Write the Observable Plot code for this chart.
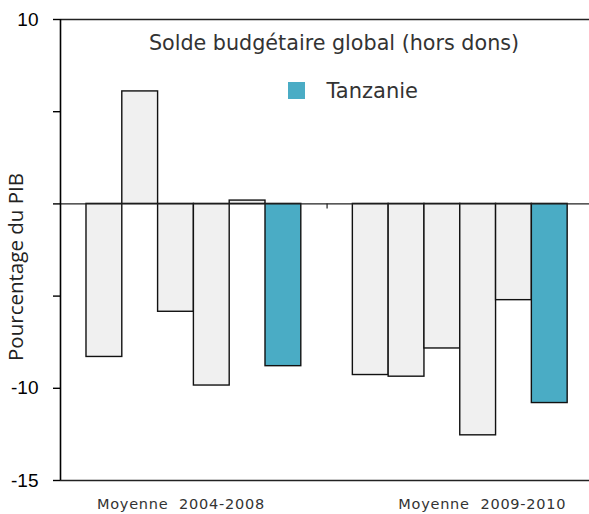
<!DOCTYPE html>
<html><head><meta charset="utf-8">
<script src="https://cdn.jsdelivr.net/npm/d3@7"></script>
<script src="https://cdn.jsdelivr.net/npm/@observablehq/plot@0.6"></script>
<style>
body{margin:0;background:#fff;}
#chart svg{display:block;}
g[aria-label^="y-axis"] text{font-family:"Liberation Sans",Arial,sans-serif;font-size:19px;fill:#000;}
g[aria-label^="y-axis"] line, g[aria-label^="y-axis"] path{stroke:#000;stroke-width:1.4px;}
</style></head><body><div id="chart"></div>
<script>
const groups = ["Moyenne  2004-2008", "Moyenne  2009-2010"];
const values2004_2008 = [-8.3, 6.1, -5.85, -9.85, 0.18, -8.8];
const values2009_2010 = [-9.28, -9.37, -7.84, -12.55, -5.22, -10.8];
const highlightLabel = "Tanzanie";
const highlightIndex = 5;
const yTicks = [10, 5, 0, -5, -10, -15];
const yTickLabels = [10, -10, -15];
const title = "Solde budgétaire global (hors dons)";
const yLabel = "Pourcentage du PIB";

const teal = "#4aacc5";
const gray = "#f0f0f0";
const gapSlots = 1.44;
const series = [values2004_2008, values2009_2010];
const groupStart = g => g * (values2004_2008.length + gapSlots);
const bars = series.flatMap((vals, g) => vals.map((v, i) => ({
  group: groups[g], x1: groupStart(g) + i, x2: groupStart(g) + i + 1, value: v, highlight: i === highlightIndex
})));
const groupCenter = g => groupStart(g) + series[g].length / 2;
const xDomain = [-0.726, 14.05];

const chart = Plot.plot({
  width: 589, height: 514,
  marginLeft: 60, marginRight: 0, marginTop: 19, marginBottom: 34,
  style: {background: "#fff", overflow: "visible"},
  x: {domain: xDomain, axis: null},
  y: {domain: [yTicks[yTicks.length-1], yTicks[0]], ticks: yTicks, tickSize: 7, tickPadding: 15,
      tickFormat: d => yTickLabels.includes(d) ? String(d) : "", label: null},
  marks: [
    Plot.rectY(bars.filter(d => !d.highlight), {x1: "x1", x2: "x2", y: "value", fill: gray, stroke: "#111", strokeWidth: 1.4}),
    Plot.rectY(bars.filter(d => d.highlight), {x1: "x1", x2: "x2", y: "value", fill: teal, stroke: "#111", strokeWidth: 1.4}),
    Plot.ruleY([yTicks[0], 0, yTicks[yTicks.length-1]], {stroke: "#222", strokeWidth: 1.4}),
    Plot.ruleX([xDomain[0]], {stroke: "#000", strokeWidth: 1.6}),
    Plot.ruleX([groupStart(1) - gapSlots/2], {y1: 0, y2: 0, insetBottom: -5, stroke: "#222", strokeWidth: 1.2}),
    Plot.text([title], {frameAnchor: "top", dx: 9, dy: 30, lineAnchor: "bottom", fontSize: 20.7, fontFamily: "DejaVu Sans", fill: "#333"}),
    Plot.dot([highlightLabel], {frameAnchor: "top", dx: -28.5, dy: 71, symbol: "square", r: 9.6, fill: teal}),
    Plot.text([highlightLabel], {frameAnchor: "top", dx: 1.5, dy: 78, textAnchor: "start", lineAnchor: "bottom", fontSize: 21, fontFamily: "DejaVu Sans", fill: "#333"}),
    Plot.text([yLabel], {frameAnchor: "left", textAnchor: "middle", rotate: -90, dx: -44, dy: 17, fontSize: 20.5, fontFamily: "Open Sans", fill: "#222"}),
    Plot.text([groups[0]], {x: () => groupCenter(0), frameAnchor: "bottom", dx: -13, dy: 28.5, lineAnchor: "bottom", fontSize: 14.5, fontFamily: "DejaVu Sans", fill: "#333"}),
    Plot.text([groups[1]], {x: () => groupCenter(1), frameAnchor: "bottom", dx: 22, dy: 28.5, lineAnchor: "bottom", fontSize: 14.5, fontFamily: "DejaVu Sans", fill: "#333"})
  ]
});
d3.select(chart).selectAll("text").filter(function() { return groups.includes(this.textContent); })
  .style("letter-spacing", "0.75px");
document.getElementById("chart").appendChild(chart);
</script></body></html>
